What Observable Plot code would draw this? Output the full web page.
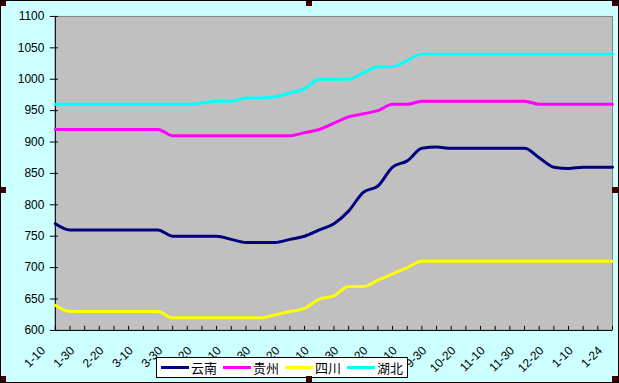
<!DOCTYPE html>
<html><head><meta charset="utf-8">
<script src="https://cdn.jsdelivr.net/npm/d3@7"></script>
<script src="https://cdn.jsdelivr.net/npm/@observablehq/plot@0.6"></script>
<style>
html,body{margin:0;padding:0;background:#fff;}
#chart{position:relative;width:619px;height:383px;background:#CCFFFF;box-sizing:border-box;border:1px solid #000;overflow:hidden;}
#chart svg{position:absolute;left:-1px;top:-1px;}
.h{position:absolute;width:6px;height:6px;background:#400000;}
#legend{position:absolute;left:155px;top:356px;width:252px;height:21px;box-sizing:border-box;border:1px solid #000;background:#fff;font-family:"Noto Sans CJK SC",sans-serif;font-size:13px;color:#000;}
.item{position:absolute;top:0;height:19px;line-height:19px;white-space:nowrap;}
.sw{position:absolute;top:8px;left:0;width:28px;height:3px;}
.lab{position:absolute;left:30px;top:0;}
</style></head>
<body>
<div id="chart"></div>
<script>
const cats = ["1-10","1-20","1-30","2-10","2-20","3-1","3-10","3-20","3-30","4-10","4-20","4-30","5-10","5-20","5-30","6-10","6-20","6-30","7-10","7-20","7-30","8-10","8-20","8-30","9-10","9-20","9-30","10-10","10-20","10-30","11-10","11-20","11-30","12-10","12-20","12-30","1-10","1-17","1-24"];
const names = ["云南","贵州","四川","湖北"];
const colors = ["#000080","#FF00FF","#FFFF00","#00FFFF"];
const yunnan  = [770,760,760,760,760,760,760,760,750,750,750,750,745,740,740,740,745,750,760,770,790,820,830,860,870,890,892,890,890,890,890,890,890,875,860,858,860,860,860];
const guizhou = [920,920,920,920,920,920,920,920,910,910,910,910,910,910,910,910,910,915,920,930,940,945,950,960,960,965,965,965,965,965,965,965,965,960,960,960,960,960,960];
const sichuan = [640,630,630,630,630,630,630,630,620,620,620,620,620,620,620,625,630,635,650,655,670,670,680,690,700,710,710,710,710,710,710,710,710,710,710,710,710,710,710];
const hubei   = [960,960,960,960,960,960,960,960,960,960,962,965,965,970,970,972,978,985,1000,1000,1000,1010,1020,1020,1030,1040,1040,1040,1040,1040,1040,1040,1040,1040,1040,1040,1040,1040,1040];
const yTicks = [600,650,700,750,800,850,900,950,1000,1050,1100];

const seriesVals = [yunnan, guizhou, sichuan, hubei];
const rows = [];
seriesVals.forEach((vals, s) => vals.forEach((v, i) => rows.push({i, v, name: names[s]})));
const idx = cats.map((d, i) => i);

const plot = Plot.plot({
  width: 619, height: 383,
  marginLeft: 55, marginRight: 5, marginTop: 16, marginBottom: 52,
  style: {background: "transparent", fontFamily: "'Liberation Sans', Arial, sans-serif", fontSize: "12px", color: "#000", overflow: "visible"},
  x: {type: "linear", domain: [0, cats.length - 1], label: null},
  y: {domain: [600, 1100], label: null},
  color: {domain: names, range: colors},
  marks: [
    Plot.frame({fill: "#C0C0C0", stroke: "#808080"}),
    Plot.ruleY([600], {stroke: "#000"}),
    Plot.ruleX([0], {stroke: "#000"}),
    Plot.axisY({ticks: yTicks, tickFormat: d => String(d), tickSize: 5, tickPadding: 6, fontSize: 12, label: null}),
    Plot.axisY({ticks: yTicks, tickSize: 3, dx: 3, fill: "none", label: null}),
    Plot.axisX({ticks: idx, tickSize: 4, dy: -4, fill: "none", label: null}),
    Plot.line(rows, {x: "i", y: "v", z: "name", stroke: "name", strokeWidth: 3, curve: "monotone-x"}),
    Plot.text(idx.filter(i => i % 2 === 0), {x: d => d, text: d => cats[d], frameAnchor: "bottom", rotate: -45, textAnchor: "end", lineAnchor: "bottom", dx: -9.5, dy: 21, fontSize: 12})
  ]
});
const chart = document.getElementById("chart");
chart.appendChild(plot);

const legend = document.createElement("div");
legend.id = "legend";
names.forEach((n, k) => {
  const it = document.createElement("div");
  it.className = "item";
  it.style.left = (4 + 62 * k) + "px";
  it.innerHTML = `<span class="sw" style="background:${colors[k]}"></span><span class="lab">${n}</span>`;
  legend.appendChild(it);
});
chart.appendChild(legend);

[[0,0],[306,0],[612,0],[0,187],[612,187],[0,376],[306,376],[612,376]].forEach(([x,y]) => {
  const h = document.createElement("div");
  h.className = "h";
  h.style.left = (x - 1) + "px";
  h.style.top = (y - 1) + "px";
  chart.appendChild(h);
});
</script>
</body></html>
